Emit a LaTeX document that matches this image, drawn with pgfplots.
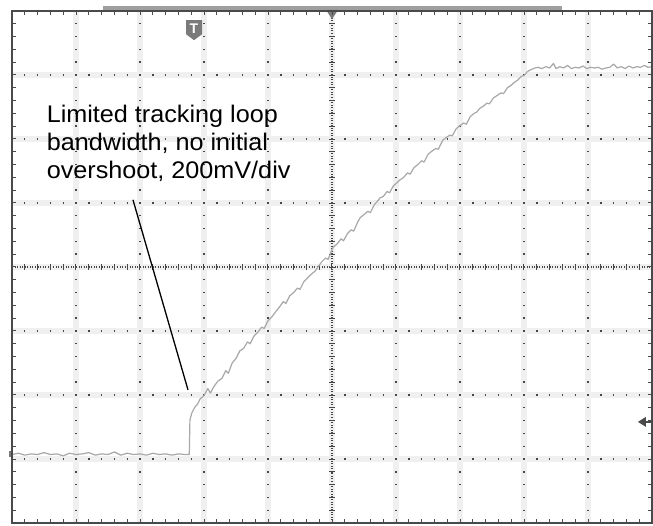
\documentclass[border=0pt]{standalone}
\usepackage{pgfplots}
\pgfplotsset{compat=1.18}
\usepackage{fontspec}
\setmainfont{Liberation Sans}
\definecolor{trace}{HTML}{A8A8A8}
\definecolor{dotc}{HTML}{474747}
\definecolor{haze}{HTML}{F0F0F0}
\definecolor{framec}{HTML}{4A4A4A}
\definecolor{markc}{HTML}{7A7A7A}
\begin{document}
\begin{tikzpicture}
\path[use as bounding box, fill=white] (-12pt,-2pt) rectangle (641pt,523pt);
\begin{axis}[at={(0,0)}, anchor=south west, scale only axis, width=640pt, height=512pt,
 xmin=-5, xmax=5, ymin=-4, ymax=4,
 xtick={-5,-4.8,...,5.01}, ytick={-4,-3.8,...,4.01},
 xticklabels={}, yticklabels={},
 tick align=inside, major tick length=4pt,
 tick style={framec, line width=1pt},
 axis line style={framec, line width=2.2pt},
 clip=false, axis on top]
% haze
\pgfplotsinvokeforeach{-4,-3,...,4}{\draw[haze, line width=6pt] (axis cs:#1,-4) -- (axis cs:#1,4);}
\pgfplotsinvokeforeach{-3,-2,...,3}{\draw[haze, line width=6pt] (axis cs:-5,#1) -- (axis cs:5,#1);}
% dotted grid
\pgfplotsinvokeforeach{-4,-3,...,4}{\draw[dotc, line width=1.4pt, dash pattern=on 1.4pt off 11.4pt, dash phase=0.7pt] (axis cs:#1,-4) -- (axis cs:#1,4);}
\pgfplotsinvokeforeach{-3,-2,...,3}{\draw[dotc, line width=1.4pt, dash pattern=on 1.4pt off 11.4pt, dash phase=0.7pt] (axis cs:-5,#1) -- (axis cs:5,#1);}
% center lines
\draw[dotc, line width=1.1pt, dash pattern=on 1pt off 1.56pt] (axis cs:0,-4) -- (axis cs:0,4);
\draw[dotc, line width=1.1pt, dash pattern=on 1pt off 1.56pt] (axis cs:-5,0) -- (axis cs:5,0);
\pgfplotsinvokeforeach{-4.8,-4.6,...,4.81}{\draw[dotc, line width=1pt] (axis cs:#1,0) ++(0pt,-3pt) -- ++(0pt,6pt);}
\pgfplotsinvokeforeach{-3.8,-3.6,...,3.81}{\draw[dotc, line width=1pt] (axis cs:0,#1) ++(-3pt,0pt) -- ++(6pt,0pt);}
% trace
\addplot[trace, line width=1.2pt, line join=round] coordinates {
(-5.0,-2.93) (-4.9,-2.91) (-4.8,-2.94) (-4.7,-2.92) (-4.6,-2.93) (-4.5,-2.90) (-4.4,-2.93) (-4.3,-2.92) (-4.2,-2.95) (-4.1,-2.91)
(-4.0,-2.93) (-3.9,-2.92) (-3.8,-2.90) (-3.7,-2.94) (-3.6,-2.92) (-3.5,-2.93) (-3.4,-2.89) (-3.3,-2.94) (-3.2,-2.91) (-3.1,-2.93)
(-3.0,-2.92) (-2.9,-2.94) (-2.8,-2.91) (-2.7,-2.93) (-2.6,-2.92) (-2.5,-2.94) (-2.4,-2.92) (-2.3,-2.93) (-2.23,-2.93)
(-2.22,-2.39) (-2.19,-2.28) (-2.15,-2.20) (-2.10,-2.14) (-2.06,-2.06)
(-2.00,-2.01) (-1.94,-1.90) (-1.90,-1.97) (-1.84,-1.86) (-1.78,-1.78) (-1.72,-1.74) (-1.66,-1.62) (-1.62,-1.66) (-1.56,-1.50) (-1.50,-1.43) (-1.44,-1.31)
(-1.38,-1.27) (-1.32,-1.17) (-1.28,-1.20) (-1.22,-1.08) (-1.16,-1.02) (-1.10,-0.94) (-1.06,-0.96) (-1.00,-0.84) (-0.94,-0.78) (-0.88,-0.70) (-0.81,-0.61)
(-0.76,-0.54) (-0.72,-0.57) (-0.66,-0.45) (-0.60,-0.40) (-0.54,-0.33) (-0.50,-0.35) (-0.44,-0.23) (-0.38,-0.17) (-0.32,-0.11) (-0.26,-0.06) (-0.22,0.00)
(-0.16,0.08) (-0.10,0.14) (-0.06,0.12) (0.00,0.27) (0.02,0.31)
(0.08,0.36) (0.14,0.44) (0.18,0.41) (0.24,0.52) (0.30,0.58) (0.34,0.56) (0.40,0.70) (0.44,0.77)
(0.50,0.82) (0.56,0.87) (0.60,0.85) (0.66,0.97) (0.72,1.04) (0.75,1.08)
(0.80,1.10) (0.86,1.18) (0.90,1.16) (0.96,1.27) (1.02,1.32) (1.06,1.36)
(1.12,1.40) (1.18,1.47) (1.22,1.45) (1.28,1.55) (1.34,1.60) (1.40,1.66) (1.44,1.64) (1.50,1.76) (1.56,1.81) (1.62,1.85) (1.66,1.84) (1.73,1.98)
(1.78,2.02) (1.84,2.06) (1.88,2.05) (1.94,2.16) (2.00,2.21) (2.06,2.25) (2.10,2.23) (2.16,2.35) (2.22,2.40) (2.26,2.42) (2.31,2.48)
(2.36,2.51) (2.42,2.56) (2.46,2.55) (2.52,2.64) (2.58,2.68) (2.64,2.72) (2.68,2.71) (2.74,2.80) (2.80,2.84) (2.83,2.87)
(2.90,2.92) (2.96,2.98) (3.00,2.99) (3.05,3.05) (3.10,3.08) (3.17,3.11)
(3.22,3.12) (3.28,3.10) (3.34,3.13) (3.40,3.11) (3.46,3.18) (3.50,3.10) (3.56,3.13) (3.62,3.11) (3.68,3.15) (3.74,3.10)
(3.80,3.12) (3.86,3.11) (3.92,3.14) (3.98,3.10) (4.04,3.12) (4.10,3.11) (4.16,3.12) (4.22,3.09) (4.28,3.11) (4.34,3.12)
(4.40,3.17) (4.46,3.11) (4.52,3.13) (4.58,3.10) (4.64,3.14) (4.70,3.11) (4.76,3.13) (4.82,3.12) (4.88,3.15) (4.94,3.12) (5.00,3.13)
};
% annotation
\draw[black, line width=1.3pt] (axis cs:-3.11,1.05) -- (axis cs:-2.25,-1.92);
\node[anchor=base west, font=\fontsize{24}{28}\selectfont, xscale=1.05, transform shape, inner sep=0pt] at (axis cs:-4.46,2.25) {Limited tracking loop};
\node[anchor=base west, font=\fontsize{24}{28}\selectfont, xscale=1.05, transform shape, inner sep=0pt] at (axis cs:-4.46,1.8125) {bandwidth, no initial};
\node[anchor=base west, font=\fontsize{24}{28}\selectfont, xscale=1.05, transform shape, inner sep=0pt] at (axis cs:-4.46,1.39) {overshoot, 200mV/div};
% markers
\fill[markc] (axis cs:-2.156,3.70) ++(-8pt,10pt) -- ++(16pt,0pt) -- ++(0pt,-14pt) -- ++(-8pt,-6pt) -- ++(-8pt,6pt) -- cycle;
\node[white, font=\bfseries\fontsize{14}{14}\selectfont, inner sep=0pt] at ([yshift=2pt]axis cs:-2.156,3.70) {T};
\fill[gray!75] ([yshift=1.2pt]axis cs:-3.578,4) rectangle ([yshift=5pt]axis cs:3.594,4);
\fill[markc] ([yshift=1pt]axis cs:0,4) ++(-6pt,0pt) -- ++(12pt,0pt) -- ++(-6pt,-9pt) -- cycle;
\fill[framec] (axis cs:4.78,-2.42) -- ++(8pt,5pt) -- ++(0pt,-10pt) -- cycle;
\draw[framec, line width=1.5pt] ([xshift=8pt]axis cs:4.78,-2.42) -- (axis cs:5,-2.42);
\fill[markc] ([xshift=-3pt,yshift=-3pt]axis cs:-5,-2.92) rectangle ([yshift=3pt]axis cs:-5,-2.92);
\end{axis}
\end{tikzpicture}
\end{document}
